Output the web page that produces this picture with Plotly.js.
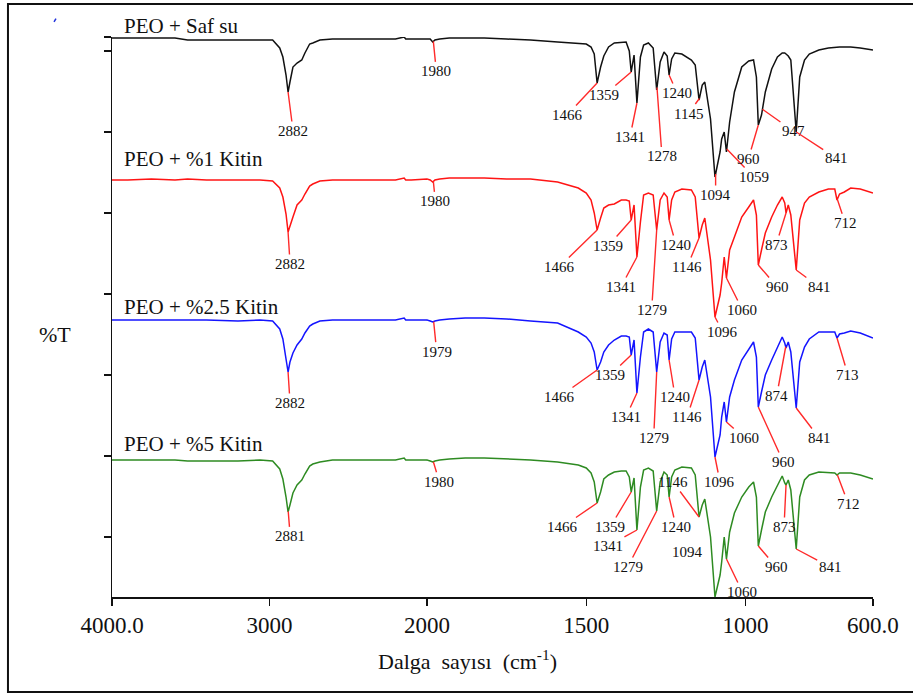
<!DOCTYPE html>
<html><head><meta charset="utf-8">
<script src="https://cdn.plot.ly/plotly-3.0.1.min.js"></script>
<style>html,body{margin:0;padding:0;background:#fff;}#chart{width:913px;height:693px;}</style>
</head><body><div id="chart"></div>
<script>
// Wavenumber grid (cm-1)
const wavenumber = [4000,3900,3750,3600,3520,3400,3200,3060,2980,2935,2915,2895,2882,2870,2851,2825,2795,2775,2745,2725,2680,2600,2500,2400,2300,2200,2145,2135,2100,2000,
  1990,1982,1975,1960,1930,1880,1820,1750,1675,1590,1525,1500,1485,1475,1466,1455,1445,1430,1412,1390,1375,1365,1359,1350,1341,1330,1320,1305,1290,1279,1268,1256,1246,1240,1232,1222,1200,1170,1158,1146,1136,1128,1110,1096,1080,1075,1067,1060,1050,1035,1012,990,975,966,960,950,938,918,900,885,877,873,866,858,841,830,815,800,770,740,720,713,705,690,670,640,600];

// Stacked %T (arbitrary offset units)
const tSafSu = [559,559,559,559,557,557,557,557,557,549,540,522,505,515,530,534,537,544,553,554,557,558,558,558,558,558,560,558,558,558,
  558,555,557,558,559,559,559,558,557,555,554,553,550,543,514,530,541,550,554,555,555,546,525,542,494,540,552,554,549,507,535,545,541,522,538,544,543,537,532,497,512,515,478,420,445,458,465,445,475,505,530,536,537,520,472,482,505,528,540,544,544,543,541,537,465,520,537,543,547,549,550,550,550,550,550,549,547];
const tKitin1 = [417,417,418,417,418,417,417,417,416,409,400,383,365,370,380,392,397,403,411,413,416,417,417,417,417,417,419,417,417,418,
  417,415,417,418,419,419,419,418,418,415,409,404,397,384,367,379,389,392,393,397,397,396,377,392,340,375,402,404,402,367,397,404,400,377,397,405,408,407,400,359,372,379,337,280,302,314,340,319,347,360,380,390,397,382,332,347,364,380,392,400,394,384,392,382,327,377,394,400,405,408,408,397,403,405,409,408,404];
const tKitin25 = [277,277,277,277,277,277,276,277,276,268,258,240,225,235,244,252,258,264,271,273,276,277,277,277,277,277,279,277,277,277,
  276,275,276,277,278,279,279,278,276,274,265,260,254,245,227,235,245,252,257,261,261,260,242,257,204,240,265,268,265,225,255,264,262,237,258,265,265,265,259,217,230,237,200,140,162,180,195,175,200,217,237,248,255,240,190,205,222,237,250,260,254,249,255,245,189,235,250,258,265,265,265,259,263,264,266,264,259];
const tKitin5 = [137,137,137,137,136,136,136,137,136,128,118,100,85,92,104,112,117,123,131,133,135,137,137,137,137,137,139,137,137,137,
  136,135,136,137,138,139,139,138,137,135,132,129,124,115,94,105,118,122,125,126,126,120,105,119,67,110,127,129,126,86,115,125,122,100,120,127,130,129,122,80,92,98,60,0,22,35,60,38,65,84,100,110,115,100,51,67,85,100,112,121,114,112,117,107,48,100,117,122,125,124,124,122,124,124,124,122,118];

const seriesNames = ['PEO + Saf su','PEO + %1 Kitin','PEO + %2.5 Kitin','PEO + %5 Kitin'];
const peaksSafSu  = [2882,1980,1466,1359,1341,1278,1240,1145,1094,1059,960,947,841];
const peaksKitin1 = [2882,1980,1466,1359,1341,1279,1240,1146,1096,1060,960,873,841,712];
const peaksKitin25= [2882,1979,1466,1359,1341,1279,1240,1146,1096,1060,960,874,841,713];
const peaksKitin5 = [2881,1980,1466,1359,1341,1279,1240,1146,1094,1060,960,873,841,712];
const xTickVals = [4000,3000,2000,1500,1000,600];
const xTickText = ['4000.0','3000','2000','1500','1000','600.0'];

// label offsets (px) — styling only
const offSafSu  = [[5,39],[3,30],[-30,32],[-27,23],[-7,34],[5,69],[8,18],[-11,15],[0,21],[27,28],[-10,34],[31,22],[40,26]];
const offKitin1 = [[2,32],[2,20],[-38,37],[-23,26],[-16,30],[-5,80],[7,25],[-12,29],[8,15],[16,32],[19,22],[-10,32],[23,17],[8,24]];
const offKitin25= [[2,31],[3,30],[-38,27],[-21,20],[-11,24],[-3,66],[6,37],[-12,37],[5,25],[18,16],[25,55],[-9,49],[23,30],[11,37]];
const offKitin5 = [[2,25],[6,20],[-35,24],[-21,35],[-29,16],[-29,56],[7,30],[-26,-35],[-28,-42],[16,33],[18,21],[-2,42],[34,18],[11,29]];
const noLine5 = [1094];

const colors = ['#111111','#ff1414','#1414ff','#2e8b22'];
const serif = '"Liberation Serif", "Times New Roman", serif';
const allSeries = [tSafSu, tKitin1, tKitin25, tKitin5];
const allPeaks = [peaksSafSu, peaksKitin1, peaksKitin25, peaksKitin5];
const allOff = [offSafSu, offKitin1, offKitin25, offKitin5];

function valueAt(vals, w) {
  for (let i = 0; i < wavenumber.length - 1; i++) {
    const a = wavenumber[i], b = wavenumber[i+1];
    if (w <= a && w >= b) { const t = (a - w) / (a - b); return vals[i] + t * (vals[i+1] - vals[i]); }
  }
  return vals[vals.length - 1];
}

const traces = [];
allSeries.forEach((s, k) => {
  ['x','x2'].forEach(ax => traces.push({x: wavenumber, y: s, xaxis: ax, yaxis: 'y', type: 'scatter', mode: 'lines',
    line: {color: colors[k], width: 1.5}, hoverinfo: 'skip', showlegend: false}));
});

const annotations = [];
allPeaks.forEach((pk, k) => {
  pk.forEach((w, i) => {
    const hide = (k === 3 && noLine5.includes(w));
    annotations.push({x: w, y: valueAt(allSeries[k], w), xref: w >= 2000 ? 'x' : 'x2', yref: 'y',
      text: String(w), showarrow: true, arrowhead: 0, arrowwidth: 1.4, standoff: 0,
      arrowcolor: hide ? 'rgba(0,0,0,0)' : '#ff2a2a', ax: allOff[k][i][0], ay: allOff[k][i][1],
      font: {family: serif, size: 15, color: '#111'}});
  });
});
const nameY = [1.0196, 0.7821, 0.5179, 0.2732];
seriesNames.forEach((n, k) => annotations.push({text: n, xref: 'paper', yref: 'paper', x: 0.0131, y: nameY[k],
  xanchor: 'left', yanchor: 'middle', showarrow: false, font: {family: serif, size: 21, color: '#111'}}));
annotations.push({text: '%T', xref: 'paper', yref: 'paper', x: -0.0986, y: 0.468, showarrow: false,
  font: {family: serif, size: 22, color: '#111'}});
annotations.push({text: 'Dalga\u00a0\u00a0sayısı\u00a0\u00a0(cm<sup>-1</sup>)', xref: 'paper', yref: 'paper', x: 0.4678, y: -0.112,
  showarrow: false, yanchor: 'middle', font: {family: serif, size: 22, color: '#111'}});

const axCommon = {showline: true, linecolor: '#111', linewidth: 1.5, ticks: 'outside', ticklen: 7, tickwidth: 1.5, tickcolor: '#111',
  showgrid: false, zeroline: false, tickfont: {family: serif, size: 23, color: '#111'}, tickmode: 'array', fixedrange: true,
  ticklabelstandoff: 0, anchor: 'y'};

const layout = {
  width: 913, height: 693, margin: {l: 112, r: 40, t: 37, b: 96},
  paper_bgcolor: '#fff', plot_bgcolor: '#fff', showlegend: false, hovermode: false,
  font: {family: serif},
  xaxis: Object.assign({}, axCommon, {domain: [0, 0.4139], range: [4000, 2000], tickvals: xTickVals.slice(0,3), ticktext: xTickText.slice(0,3)}),
  xaxis2: Object.assign({}, axCommon, {domain: [0.4139, 1], range: [2000, 600], tickvals: xTickVals.slice(3), ticktext: xTickText.slice(3)}),
  yaxis: {range: [0, 560], showline: true, linecolor: '#111', linewidth: 1.5, ticks: 'outside', ticklen: 7, tickwidth: 1.5, tickcolor: '#111',
    tickmode: 'array', tickvals: [60,141,222,303,384,465,546,560], showticklabels: false, showgrid: false, zeroline: false, fixedrange: true},
  annotations: annotations,
  shapes: [
    {type: 'rect', xref: 'paper', yref: 'paper', x0: -0.1367, x1: 1.08, y0: -0.1696, y1: 1.0589, line: {color: '#111', width: 2}},
    {type: 'line', xref: 'paper', yref: 'paper', x0: -0.0762, x1: -0.0736, y0: 1.0268, y1: 1.0330, line: {color: '#2233dd', width: 1.5}}
  ]
};
Plotly.newPlot('chart', traces, layout, {staticPlot: true, displayModeBar: false});
</script></body></html>
